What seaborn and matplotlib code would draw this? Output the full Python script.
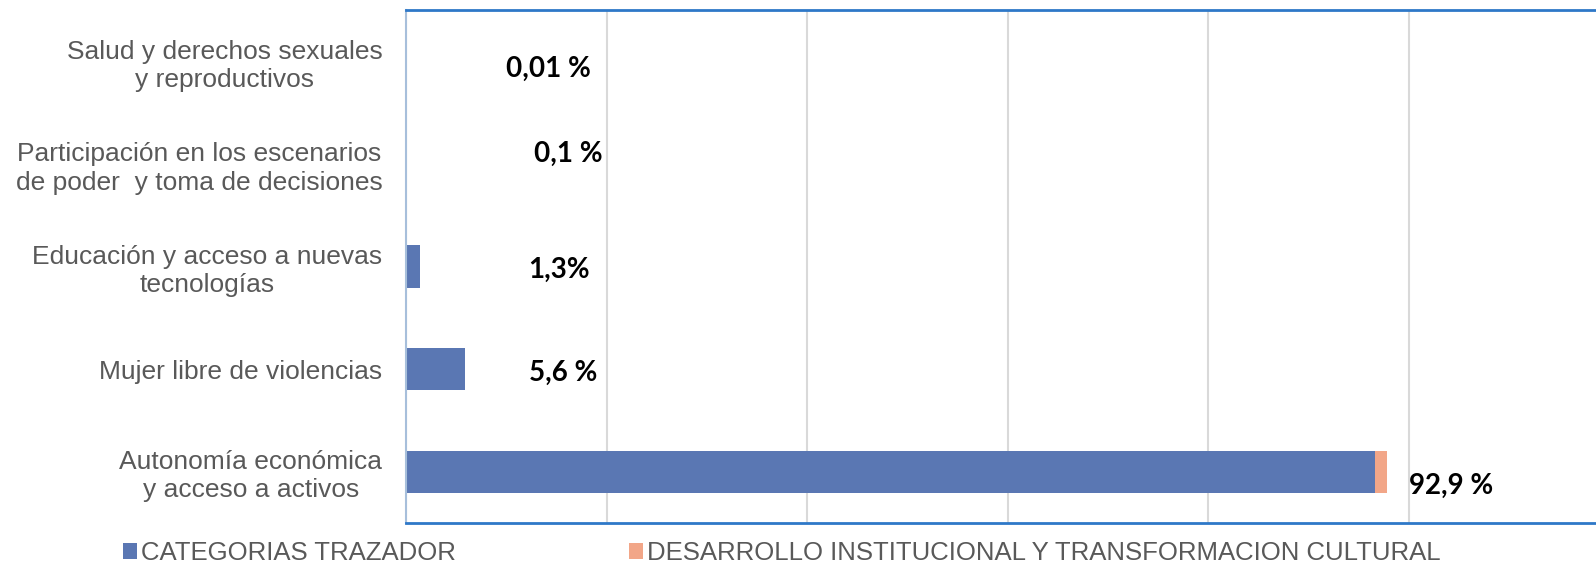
import matplotlib
matplotlib.use("Agg")
import matplotlib.pyplot as plt
import seaborn as sns
import pandas as pd
import numpy as np
from matplotlib.patches import Patch

# ---------------- data ----------------
categories = [
    "Salud y derechos sexuales\ny reproductivos",
    "Participación en los escenarios\nde poder  y toma de decisiones",
    "Educación y acceso a nuevas\ntecnologías",
    "Mujer libre de violencias",
    "Autonomía económica\ny acceso a activos",
]
trazador = [0.0, 0.05, 1.3, 5.55, 91.77]
desarrollo = [0.01, 0.05, 0.0, 0.05, 1.13]
value_labels = ["0,01 %", "0,1 %", "1,3%", "5,6 %", "92,9 %"]
series_names = ["CATEGORIAS TRAZADOR",
                "DESARROLLO INSTITUCIONAL Y TRANSFORMACION CULTURAL"]

# label placement (layout only)
label_x = [13.5, 15.4, 14.5, 14.9, 99.0]
label_dy = [0.075, -0.095, 0.035, 0.035, 0.135]

BLUE = "#5A77B3"
ORANGE = "#F2A688"
GRAY = "#595959"

sns.set_theme(style="white")
plt.rcParams["font.family"] = ["Liberation Sans", "DejaVu Sans"]

W, H = 1596, 568
fig = plt.figure(figsize=(W / 100, H / 100), dpi=100)
ax = fig.add_axes([406 / W, 45 / H, 1 - 406 / W, 513 / H])

df = pd.DataFrame({
    "cat": categories,
    "total": np.add(trazador, desarrollo),
    "trazador": trazador,
})

sns.barplot(data=df, x="total", y="cat", color=ORANGE, width=0.41,
            saturation=1, ax=ax, orient="h", edgecolor="none")
sns.barplot(data=df, x="trazador", y="cat", color=BLUE, width=0.41,
            saturation=1, ax=ax, orient="h", edgecolor="none")

step = 19.0
xmax = (W - 406) / 200.6 * step
ax.set_xticks(np.arange(0, xmax, step))
ax.set_xlim(0, xmax)
ax.set_xticklabels([])
ax.tick_params(axis="x", length=0)
ax.grid(axis="x", color="#D9D9D9", linewidth=1.5)
ax.set_axisbelow(True)
ax.set_ylim(4.5, -0.5)

ax.set_xlabel("")
ax.set_ylabel("")
ax.tick_params(axis="y", length=0, pad=17, labelsize=19, labelcolor=GRAY)
for t in ax.get_yticklabels():
    t.set_multialignment("center")
    t.set_linespacing(1.22)

for s in ["top", "bottom"]:
    ax.spines[s].set_color("#2E78C8")
    ax.spines[s].set_linewidth(2)
ax.spines["left"].set_color("#A7BFDB")
ax.spines["left"].set_linewidth(1.5)
ax.spines["right"].set_visible(False)

for i, (lab, lx, dy) in enumerate(zip(value_labels, label_x, label_dy)):
    ax.text(lx, i + dy, lab, ha="center", va="center", fontsize=20,
            fontweight="bold", family=["Lato", "DejaVu Sans"], color="black")

handles = [Patch(facecolor=BLUE, edgecolor="none"),
           Patch(facecolor=ORANGE, edgecolor="none")]
leg = fig.legend(handles, series_names, ncol=2, loc="center left",
                 bbox_to_anchor=(123 / W, 1 - 553 / H), frameon=False,
                 prop={"family": ["Liberation Sans Narrow", "Liberation Sans"],
                       "size": 18.5},
                 handlelength=0.55, handleheight=0.55, handletextpad=0.15,
                 columnspacing=6.75, borderaxespad=0, borderpad=0)
for t in leg.get_texts():
    t.set_color(GRAY)

fig.savefig("out.png", dpi=100)
